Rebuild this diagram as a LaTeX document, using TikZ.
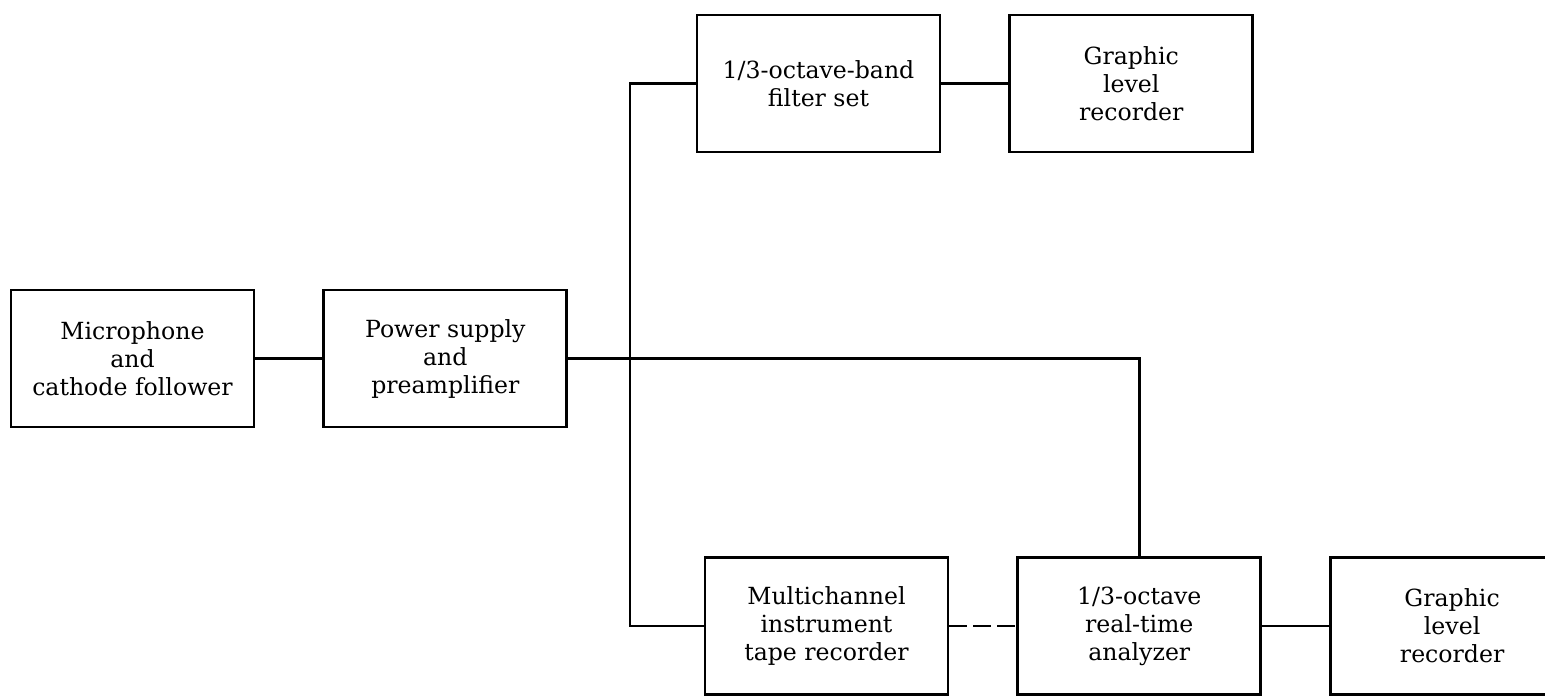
\documentclass[tikz,border=0pt]{standalone}
\usepackage{fontspec}
\setmainfont{DejaVu Serif}
\usepackage{tikz}
\usetikzlibrary{positioning}

\begin{document}
\begin{tikzpicture}[x=0.5pt, y=-0.5pt, node distance=33.5pt,
        box/.style={draw, line width=1.4pt, minimum width=121.5pt, minimum height=68.5pt,
            inner sep=0pt, align=center, font=\fontsize{11.8}{14}\selectfont},
        link/.style={line width=1.2pt}]
        \useasboundingbox (0,0) rectangle (1545,696);

        \node[box] (mic) at (132.5,358.5) {Microphone\\and\\cathode follower};
        \node[box, right=of mic] (amp) {Power supply\\and\\preamplifier};
        \node[box] (filt) at (818.5,83.5) {1/3-octave-band\\filter set};
        \node[box, right=of filt] (glr1) {Graphic\\level\\recorder};
        \node[box] (tape) at (826.5,626) {Multichannel\\instrument\\tape recorder};
        \node[box, right=of tape] (rta) {1/3-octave\\real-time\\analyzer};
        \node[box, right=of rta] (glr2) {Graphic\\level\\recorder};
        \coordinate (bus) at (630,358.5);

        \draw[link] (mic) -- (amp);
        \draw[link] (amp.east) -| (rta.north);
        \draw[link] (filt.west) -| (bus) |- (tape.west);
        \draw[link] (filt) -- (glr1);
        \draw[link, dash pattern=on 9pt off 3pt] (tape) -- (rta);
        \draw[link] (rta) -- (glr2);
    \end{tikzpicture}
\end{document}
